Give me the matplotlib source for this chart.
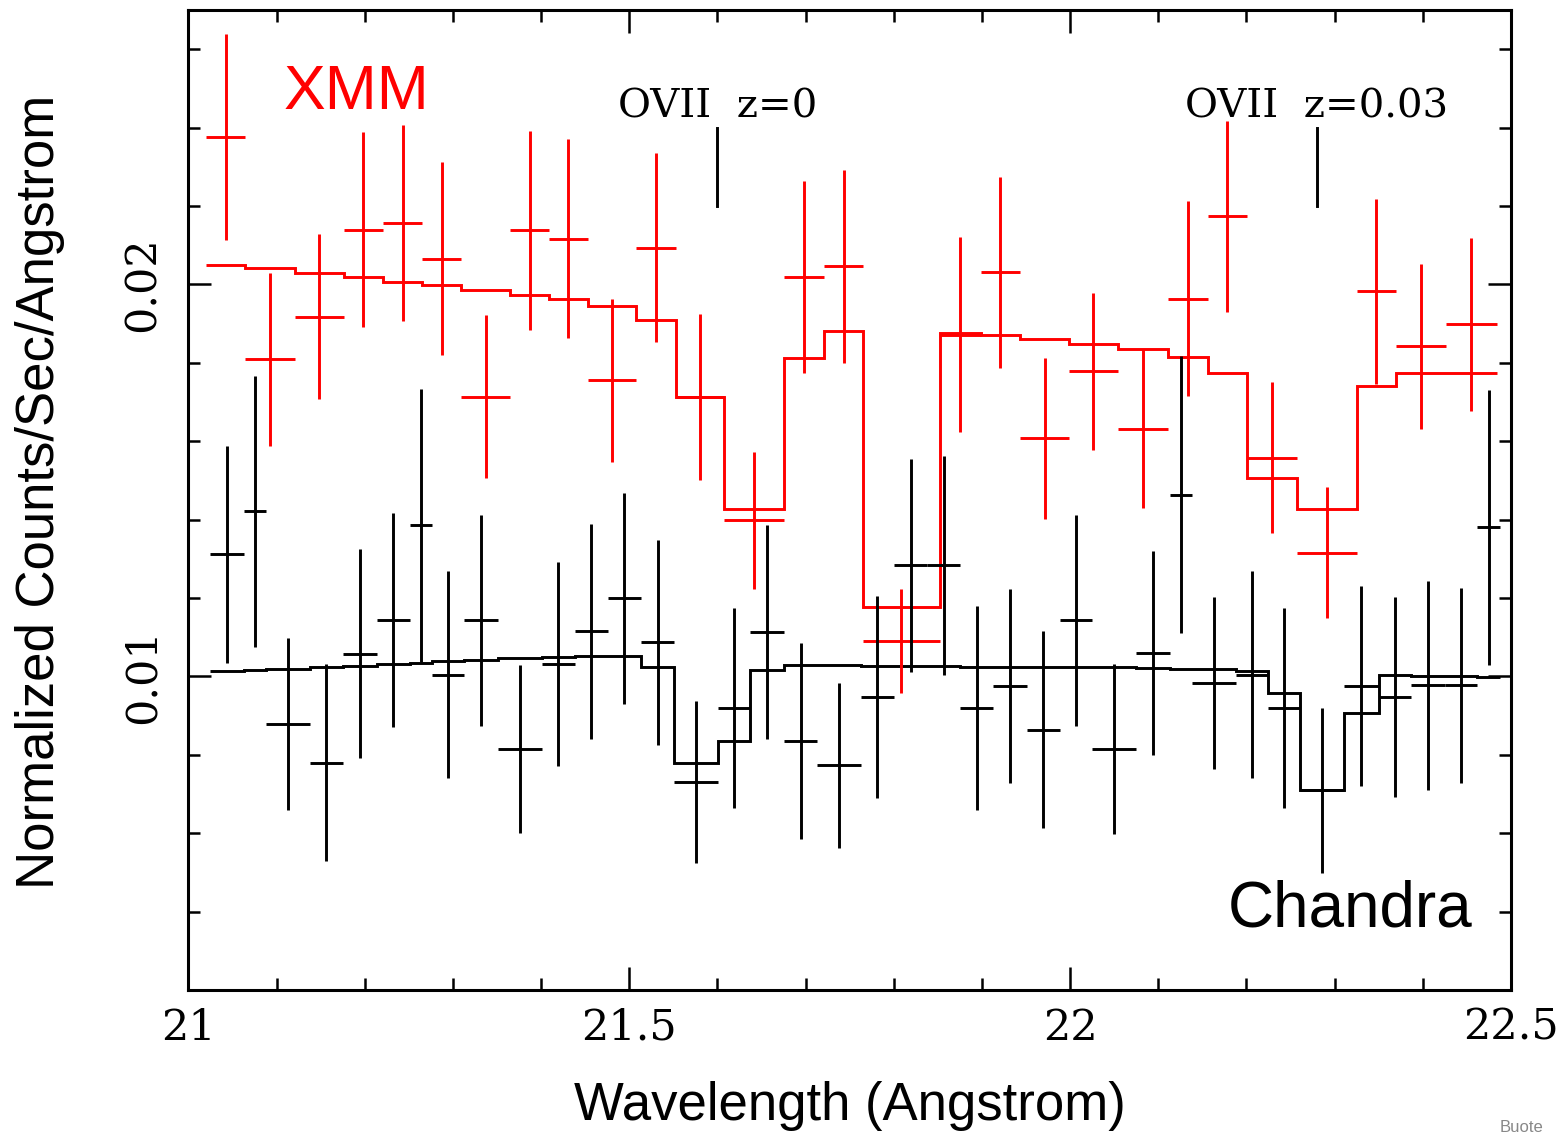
import numpy as np
import matplotlib
matplotlib.use('Agg')
import matplotlib.pyplot as plt
from matplotlib.ticker import MultipleLocator, FixedLocator, FixedFormatter

# XMM (red): bin edges in Angstrom, rate, 1-sigma error, folded model
xmm_edges = [21.020, 21.064, 21.121, 21.176, 21.221, 21.265, 21.309, 21.365,
             21.409, 21.453, 21.508, 21.553, 21.607, 21.675, 21.721, 21.765,
             21.852, 21.899, 21.943, 21.999, 22.054, 22.111, 22.156, 22.201,
             22.257, 22.325, 22.370, 22.426, 22.484]
xmm_rate = [0.02376, 0.01809, 0.01918, 0.02140, 0.02156, 0.02066, 0.01714,
            0.02138, 0.02117, 0.01755, 0.02094, 0.01712, 0.01398, 0.02020,
            0.02046, 0.01091, 0.01872, 0.02031, 0.01607, 0.01778, 0.01632,
            0.01964, 0.02174, 0.01558, 0.01316, 0.01982, 0.01842, 0.01898]
xmm_err = [0.00262, 0.00220, 0.00211, 0.00248, 0.00250, 0.00245, 0.00209,
           0.00254, 0.00254, 0.00207, 0.00241, 0.00212, 0.00175, 0.00245,
           0.00246, 0.00133, 0.00248, 0.00244, 0.00206, 0.00200, 0.00203,
           0.00249, 0.00244, 0.00193, 0.00166, 0.00237, 0.00211, 0.00220]
xmm_model = [0.02049, 0.02043, 0.02028, 0.02018, 0.02005, 0.01998, 0.01985,
             0.01972, 0.01962, 0.01946, 0.01909, 0.01712, 0.01428, 0.01811,
             0.01880, 0.01178, 0.01877, 0.01872, 0.01860, 0.01849, 0.01834,
             0.01814, 0.01775, 0.01507, 0.01428, 0.01740, 0.01773, 0.01773]

# Chandra (black)
chandra_edges = [21.024, 21.063, 21.088, 21.138, 21.175, 21.214, 21.251, 21.276,
                 21.313, 21.351, 21.401, 21.438, 21.476, 21.513, 21.551, 21.601,
                 21.637, 21.676, 21.713, 21.763, 21.800, 21.838, 21.875, 21.913,
                 21.951, 21.988, 22.025, 22.075, 22.113, 22.138, 22.188, 22.225,
                 22.261, 22.311, 22.350, 22.387, 22.425, 22.462, 22.488]
chandra_rate = [0.01311, 0.01421, 0.00878, 0.00780, 0.01058, 0.01143, 0.01385,
                0.01004, 0.01143, 0.00815, 0.01032, 0.01115, 0.01199, 0.01087,
                0.00731, 0.00920, 0.01114, 0.00836, 0.00773, 0.00948, 0.01283,
                0.01283, 0.00919, 0.00976, 0.00864, 0.01143, 0.00815, 0.01059,
                0.01464, 0.00983, 0.01004, 0.00919, 0.00709, 0.00976, 0.00948,
                0.00977, 0.00977, 0.01380]
chandra_err = [0.00277, 0.00345, 0.00220, 0.00252, 0.00267, 0.00273, 0.00347,
               0.00264, 0.00270, 0.00215, 0.00260, 0.00274, 0.00269, 0.00262,
               0.00206, 0.00255, 0.00273, 0.00250, 0.00211, 0.00257, 0.00271,
               0.00280, 0.00260, 0.00248, 0.00251, 0.00270, 0.00217, 0.00260,
               0.00353, 0.00219, 0.00264, 0.00255, 0.00210, 0.00255, 0.00255,
               0.00266, 0.00249, 0.00350]
chandra_model = [0.01015, 0.01017, 0.01020, 0.01023, 0.01027, 0.01031, 0.01035,
                 0.01039, 0.01043, 0.01048, 0.01050, 0.01052, 0.01052, 0.01024,
                 0.00779, 0.00836, 0.01017, 0.01030, 0.01028, 0.01027, 0.01027,
                 0.01026, 0.01025, 0.01025, 0.01024, 0.01023, 0.01023, 0.01022,
                 0.01020, 0.01018, 0.01015, 0.00958, 0.00709, 0.00907, 0.01004,
                 0.01002, 0.01000, 0.00999]

# OVII line markers
line_pos = [21.600, 22.280]
line_labels = ['OVII  z=0', 'OVII  z=0.03']
marker_lo, marker_hi, label_y = 0.0220, 0.0240, 0.02426

xticks = [21, 21.5, 22, 22.5]
xtick_labels = ['21', '21.5', '22', '22.5']
yticks = [0.01, 0.02]
ytick_labels = ['0.01', '0.02']

red = '#ff0000'
lw = 2.1
serif = 'DejaVu Serif'

fig = plt.figure(figsize=(15.68, 11.36), dpi=100)
ax = fig.add_axes([0.1202, 0.1285, 0.8434, 0.8627])


def draw_spectrum(edges, rate, err, model, color):
    edges = np.asarray(edges)
    centers = 0.5 * (edges[:-1] + edges[1:])
    halfw = 0.5 * np.diff(edges)
    ax.errorbar(centers, rate, yerr=err, xerr=halfw, fmt='none',
                ecolor=color, elinewidth=lw, capsize=0)
    ax.stairs(model, edges, baseline=None, color=color, lw=lw)


draw_spectrum(xmm_edges, xmm_rate, xmm_err, xmm_model, red)
draw_spectrum(chandra_edges, chandra_rate, chandra_err, chandra_model, 'black')

for xp, lab in zip(line_pos, line_labels):
    ax.plot([xp, xp], [marker_lo, marker_hi], color='black', lw=lw)
    ax.text(xp, label_y, lab, ha='center', va='baseline',
            family=serif, fontsize=29)

ax.text(21.108, 0.02447, 'XMM', color=red, fontsize=45,
        family='Liberation Sans', ha='left', va='baseline')
ax.text(22.179, 0.00361, 'Chandra', color='black', fontsize=46,
        family='Liberation Sans', ha='left', va='baseline')

ax.set_xlim(21, 22.5)
ax.set_ylim(0.002, 0.027)

ax.xaxis.set_major_locator(FixedLocator(xticks))
ax.xaxis.set_major_formatter(FixedFormatter(xtick_labels))
ax.xaxis.set_minor_locator(MultipleLocator(0.1))
ax.yaxis.set_major_locator(FixedLocator(yticks))
ax.yaxis.set_major_formatter(FixedFormatter(ytick_labels))
ax.yaxis.set_minor_locator(MultipleLocator(0.002))

ax.tick_params(which='both', direction='in', top=True, right=True, width=1.8)
ax.tick_params(which='major', length=16.5)
ax.tick_params(which='minor', length=8.6)
ax.tick_params(axis='x', which='major', pad=12)
ax.tick_params(axis='y', which='major', pad=18)
for lab in ax.get_xticklabels() + ax.get_yticklabels():
    lab.set_family(serif)
    lab.set_fontsize(31)
for lab in ax.get_yticklabels():
    lab.set_rotation(90)
    lab.set_va('center')
for sp in ax.spines.values():
    sp.set_linewidth(2.2)

ax.set_xlabel('Wavelength (Angstrom)', family='Liberation Sans', fontsize=38,
              labelpad=23)
ax.set_ylabel('Normalized Counts/Sec/Angstrom', family='Liberation Sans',
              fontsize=38)
ax.yaxis.set_label_coords(-0.093, 0.508)

fig.text(1500 / 1568, 1 - 1135 / 1136, 'Buote', color='#888888', fontsize=12,
         family='Liberation Sans', ha='left', va='bottom')

fig.savefig('out.png', dpi=100)
